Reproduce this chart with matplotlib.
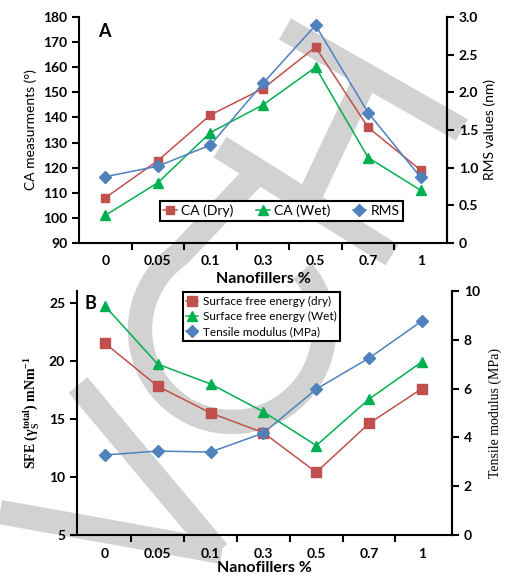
import numpy as np
import matplotlib
matplotlib.use('Agg')
import matplotlib.pyplot as plt

plt.rcParams['font.family'] = ['Lato', 'DejaVu Sans']

# ---- data ----
nanofillers = ['0', '0.05', '0.1', '0.3', '0.5', '0.7', '1']

# panel A : contact angle (left axis) and RMS roughness (right axis)
ca_dry = [108, 122.8, 141, 151.5, 168, 136, 119]
ca_wet = [101, 114, 134, 145, 160, 124, 111]
rms = [0.88, 1.02, 1.30, 2.12, 2.89, 1.73, 0.87]

# panel B : surface free energy (left axis) and tensile modulus (right axis)
sfe_dry = [21.5, 17.8, 15.5, 13.8, 10.4, 14.6, 17.6]
sfe_wet = [24.7, 19.7, 18.0, 15.6, 12.7, 16.7, 19.9]
tensile = [3.28, 3.44, 3.40, 4.18, 5.98, 7.25, 8.77]

red = '#C0504D'
green = '#00B050'
blue = '#4F81BD'
wm_grey = '#d2d2d2'

W, H = 505, 579

# background watermark strokes (figure pixel coords): "V", "C", "H"
t = np.radians(np.linspace(125, 400, 80))
c_arc = list(zip(232 + 92 * np.cos(t), 330 - 92 * np.sin(t)))
watermark = [
    [(0, 512), (222, 552)],
    [(78, 385), (218, 552)],
    [(252, 178)] + c_arc,
    [(220, 147), (392, 255)],
    [(285, 29), (462, 130)],
    [(308, 200), (364, 82)],
]

fig = plt.figure(figsize=(W / 100, H / 100), dpi=100)

bg = fig.add_axes([0, 0, 1, 1], zorder=-1)
bg.set_xlim(0, W)
bg.set_ylim(H, 0)
bg.axis('off')
for stroke in watermark:
    xs, ys = zip(*stroke)
    bg.plot(xs, ys, color=wm_grey, lw=17.5, solid_capstyle='butt', solid_joinstyle='round')

x = np.arange(len(nanofillers))


def style_axes(ax, ax2, xlo, xhi):
    ax.patch.set_visible(False)
    ax2.patch.set_visible(False)
    for a in (ax, ax2):
        a.spines['top'].set_visible(False)
        for s in ('left', 'right', 'bottom'):
            a.spines[s].set_linewidth(1.5)
    ax2.spines['left'].set_visible(False)
    ax2.spines['bottom'].set_visible(False)
    ax.set_xlim(xlo, xhi)
    ax.set_xticks(x)
    ax.set_xticklabels(nanofillers, fontsize=10, fontweight='bold')
    ax.set_xticks(np.arange(0.5, len(x) - 1, 1), minor=True)
    ax.tick_params(axis='x', which='major', length=0, pad=9)
    ax.tick_params(axis='x', which='minor', length=5, width=1.5, direction='out')
    ax.tick_params(axis='y', length=5, width=1.5, direction='out', labelsize=10)
    ax2.tick_params(axis='y', length=5, width=1.5, direction='out', labelsize=10)
    for lab in ax.get_yticklabels() + ax2.get_yticklabels():
        lab.set_fontweight('bold')


# ---------------- Panel A ----------------
axA = fig.add_axes([79 / W, 1 - 243 / H, 368 / W, 226 / H], zorder=1)
axA2 = axA.twinx()
axA2.set_zorder(2)
l1, = axA.plot(x, ca_dry, color=red, marker='s', ms=6, lw=1.1, label='CA (Dry)')
l2, = axA.plot(x, ca_wet, color=green, marker='^', ms=6.5, lw=1.1, label='CA (Wet)')
l3, = axA2.plot(x, rms, color=blue, marker='D', ms=6.5, lw=1.1, label='RMS')
axA.set_ylim(90, 180)
axA.set_yticks(np.arange(90, 181, 10))
axA2.set_ylim(0, 3.0)
axA2.set_yticks(np.arange(0, 3.01, 0.5))
axA2.set_yticklabels(['0', '0.5', '1.0', '1.5', '2.0', '2.5', '3.0'])
style_axes(axA, axA2, -0.5, 6.5)
axA.set_ylabel('CA measurments (°)', fontsize=10, labelpad=4)
axA2.set_ylabel('RMS values (nm)', fontsize=10, labelpad=4)
axA.set_xlabel('Nanofillers %', fontsize=11.5, fontweight='bold', labelpad=3)
axA.text(0.07, 0.975, 'A', transform=axA.transAxes, fontsize=13, fontweight='bold',
         va='top', ha='center')
legA = axA2.legend([l1, l2, l3], ['CA (Dry)', 'CA (Wet)', 'RMS'], ncol=3,
                   loc='center', bbox_to_anchor=(0.55, 0.142), fontsize=10,
                   frameon=True, fancybox=False, framealpha=1, edgecolor='black',
                   handlelength=1.0, handletextpad=0.3, columnspacing=1.6,
                   borderpad=0.25, borderaxespad=0)
legA.get_frame().set_linewidth(1.5)

# ---------------- Panel B ----------------
axB = fig.add_axes([77 / W, 1 - 535 / H, 375 / W, 244 / H], zorder=1)
axB2 = axB.twinx()
axB2.set_zorder(2)
m1, = axB.plot(x, sfe_dry, color=red, marker='s', ms=6.5, lw=1.1)
m2, = axB.plot(x, sfe_wet, color=green, marker='^', ms=6.5, lw=1.1)
m3, = axB2.plot(x, tensile, color=blue, marker='D', ms=6.5, lw=1.1)
axB.set_ylim(5, 26)
axB.set_yticks(np.arange(5, 26, 5))
axB2.set_ylim(0, 10)
axB2.set_yticks(np.arange(0, 11, 2))
style_axes(axB, axB2, -0.53, 6.57)
axB.set_ylabel(r'SFE ($\mathregular{\gamma_S^{total}}$) mNm$^\mathregular{-1}$',
               family='Liberation Serif', fontweight='bold', fontsize=10, labelpad=6)
axB2.set_ylabel('Tensile modulus (MPa)', family='Liberation Serif', fontsize=10, labelpad=6)
axB.set_xlabel('Nanofillers %', fontsize=11.5, fontweight='bold', labelpad=1)
axB.text(0.035, 0.985, 'B', transform=axB.transAxes, fontsize=13, fontweight='bold',
         va='top', ha='center')
legB = axB2.legend([m1, m2, m3], ['Surface free energy (dry)', 'Surface free energy (Wet)',
                                  'Tensile modulus (MPa)'],
                   loc='upper center', bbox_to_anchor=(0.492, 0.995), fontsize=8.5,
                   frameon=True, fancybox=False, framealpha=1, edgecolor='black',
                   handlelength=1.0, handletextpad=0.4, borderpad=0.3, labelspacing=0.35,
                   borderaxespad=0)
legB.get_frame().set_linewidth(1.5)

fig.savefig('out.png', dpi=100)
